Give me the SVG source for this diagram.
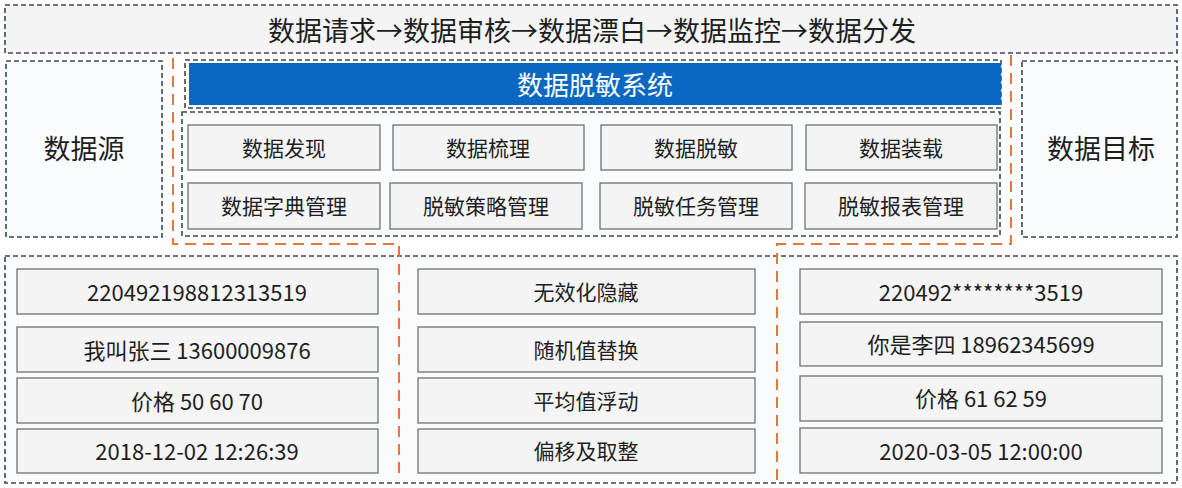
<svg xmlns="http://www.w3.org/2000/svg" width="1182" height="488" viewBox="0 0 1182 488">
<style>
text{font-family:"Noto Sans CJK SC","Noto Sans",sans-serif;fill:#1e1e1e;text-anchor:middle;dominant-baseline:central}
.dash{fill:#fafbfc;stroke:#3c4654;stroke-width:1.6;stroke-dasharray:5 3}
.box{fill:#f4f4f5;stroke:#707070;stroke-width:1.3}
.orange{fill:none;stroke:#e8763c;stroke-width:2;stroke-dasharray:11 7}
.lbl{font-size:21px}
.val{font-size:22px}
.big{font-size:27px}
</style>
<rect width="1182" height="488" fill="#ffffff"/>
<g id="flow">
<rect x="5" y="5" width="1172" height="48" class="dash" style="fill:#f4f4f4"/>
<text x="592" y="29" class="big">数据请求→数据审核→数据漂白→数据监控→数据分发</text>
</g>
<g id="source">
<rect x="6" y="61" width="156" height="176" class="dash"/>
<text x="84" y="147" class="big">数据源</text>
</g>
<g id="target">
<rect x="1022" y="61" width="155" height="176" class="dash"/>
<text x="1101" y="147" class="big">数据目标</text>
</g>
<g id="system">
<rect x="185" y="60" width="816" height="48" class="dash" style="fill:#ffffff"/>
<rect x="189" y="63" width="812" height="42" fill="#0a68c2"/>
<text x="595" y="83" style="font-size:26px;fill:#ffffff">数据脱敏系统</text>
</g>
<g id="modules">
<rect x="182" y="112" width="818" height="124" class="dash"/>
<g id="m1"><rect x="188" y="125" width="192" height="45" class="box"/><text x="284" y="147" class="lbl">数据发现</text></g>
<g id="m2"><rect x="393" y="125" width="191" height="45" class="box"/><text x="488" y="147" class="lbl">数据梳理</text></g>
<g id="m3"><rect x="601" y="125" width="191" height="45" class="box"/><text x="696" y="147" class="lbl">数据脱敏</text></g>
<g id="m4"><rect x="806" y="125" width="191" height="45" class="box"/><text x="901" y="147" class="lbl">数据装载</text></g>
<g id="m5"><rect x="188" y="183" width="192" height="46" class="box"/><text x="284" y="205" class="lbl">数据字典管理</text></g>
<g id="m6"><rect x="390" y="183" width="192" height="46" class="box"/><text x="486" y="205" class="lbl">脱敏策略管理</text></g>
<g id="m7"><rect x="600" y="183" width="192" height="46" class="box"/><text x="696" y="205" class="lbl">脱敏任务管理</text></g>
<g id="m8"><rect x="805" y="183" width="192" height="46" class="box"/><text x="901" y="205" class="lbl">脱敏报表管理</text></g>
</g>
<g id="examples">
<rect x="5" y="256" width="1172" height="227" class="dash"/>
<g id="orig">
<g><rect x="17" y="269" width="361" height="45" class="box"/><text x="197" y="291" class="val">220492198812313519</text></g>
<g><rect x="17" y="327" width="361" height="45" class="box"/><text x="197" y="349" class="val">我叫张三 13600009876</text></g>
<g><rect x="17" y="378" width="361" height="45" class="box"/><text x="197" y="400" class="val">价格 50 60 70</text></g>
<g><rect x="17" y="429" width="361" height="44" class="box"/><text x="197" y="450" class="val">2018-12-02 12:26:39</text></g>
</g>
<g id="methods">
<g><rect x="418" y="269" width="337" height="45" class="box"/><text x="586" y="291" class="lbl">无效化隐藏</text></g>
<g><rect x="418" y="327" width="337" height="45" class="box"/><text x="586" y="349" class="lbl">随机值替换</text></g>
<g><rect x="418" y="378" width="337" height="45" class="box"/><text x="586" y="400" class="lbl">平均值浮动</text></g>
<g><rect x="418" y="429" width="337" height="44" class="box"/><text x="586" y="450" class="lbl">偏移及取整</text></g>
</g>
<g id="masked">
<g><rect x="800" y="269" width="362" height="45" class="box"/><text x="981" y="291" class="val">220492********3519</text></g>
<g><rect x="800" y="322" width="362" height="44" class="box"/><text x="981" y="343" class="val">你是李四 18962345699</text></g>
<g><rect x="800" y="376" width="362" height="45" class="box"/><text x="981" y="397" class="val">价格 61 62 59</text></g>
<g><rect x="800" y="428" width="362" height="45" class="box"/><text x="981" y="450" class="val">2020-03-05 12:00:00</text></g>
</g>
</g>
<g id="connectors">
<path class="orange" d="M173 58 V244 H399 V480"/>
<path class="orange" d="M1011 55 V244 H777 V480"/>
</g>
</svg>
